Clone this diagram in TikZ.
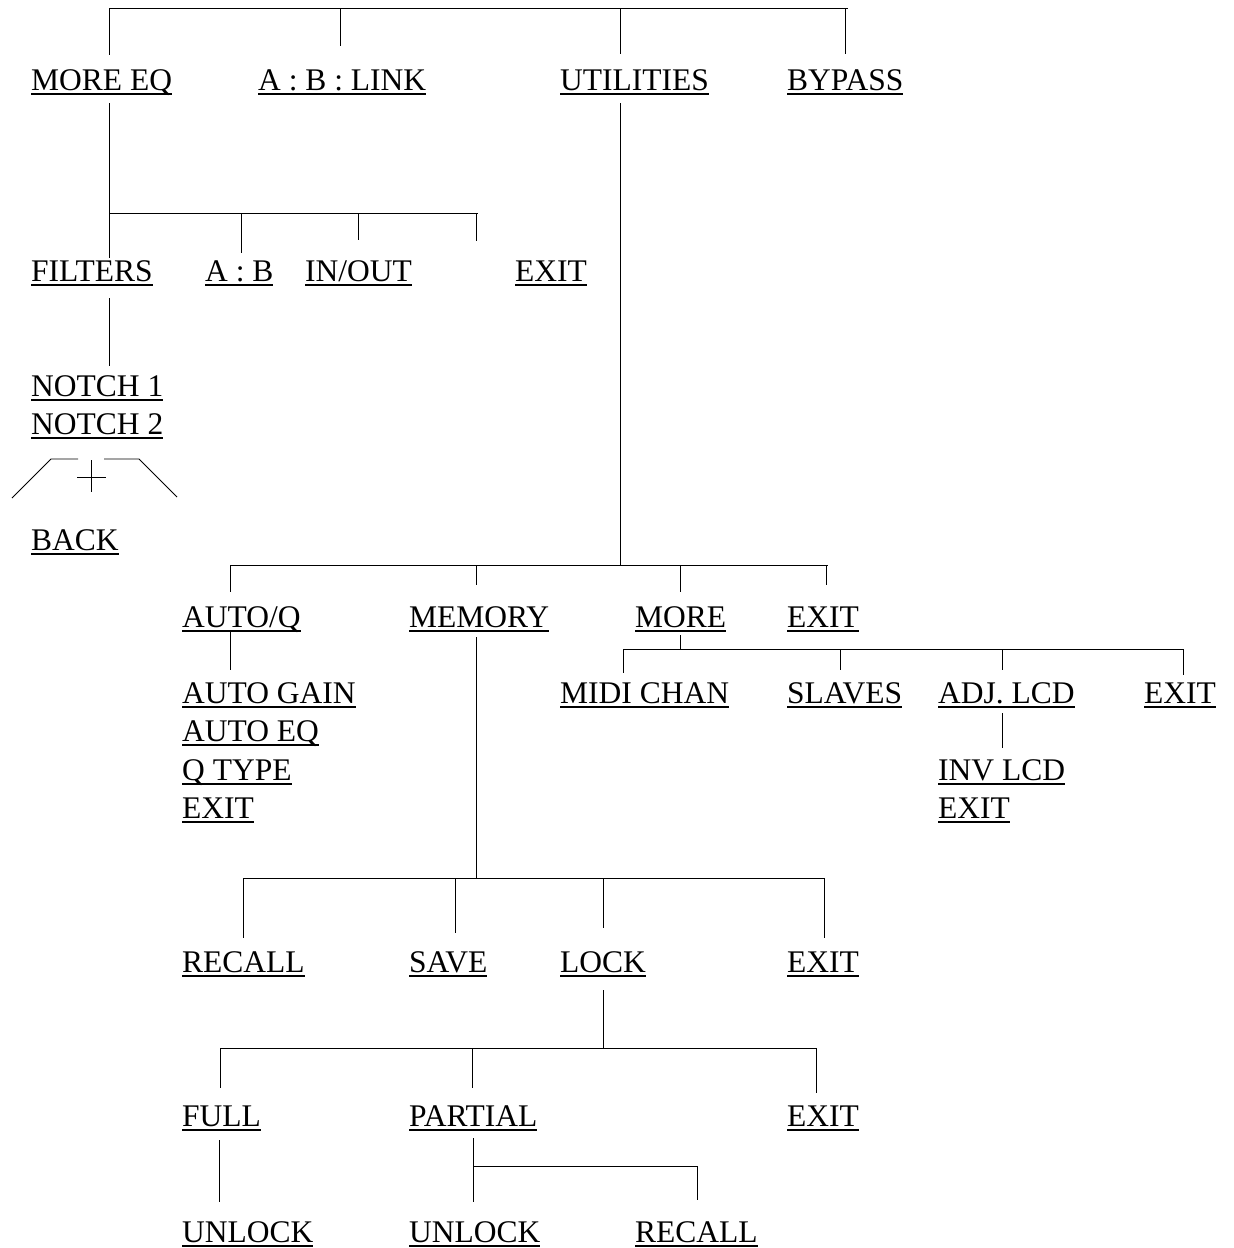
\documentclass[tikz,border=0pt]{standalone}
\usepackage{fontspec}
\setmainfont{Liberation Serif}
\usetikzlibrary{positioning}
\newsavebox\menubox
\newcommand\menuul[1]{\sbox\menubox{#1}\rlap{\rule[-4.5pt]{\wd\menubox}{1.7pt}}\usebox\menubox}

\begin{document}
\begin{tikzpicture}[x=1pt,y=-1pt,
  menuitem/.style={anchor=base west,inner sep=0pt,font=\fontsize{31.5}{37}\selectfont},
  menuline/.style={line width=0.9pt,black}
]
  \useasboundingbox (0,0) rectangle (1234,1248);

  % Top level
  \node[menuitem] (moreeq) at (31,90) {\menuul{MORE EQ}};
  \node[menuitem] (ablink) at (258,90) {\menuul{A : B : LINK}};
  \node[menuitem] (util) at (560,90) {\menuul{UTILITIES}};
  \node[menuitem] (bypass) at (787,90) {\menuul{BYPASS}};
  \coordinate (topbarL) at (109,8);
  \coordinate (topbarR) at (848,8);
  \draw[menuline] (topbarL) -- (topbarR);
  \foreach \x/\y in {109/55,340/46,620/54,845/54}
    \draw[menuline] (\x,8) -- (\x,\y);

  % More EQ
  \node[menuitem] (filters) at (31,281) {\menuul{FILTERS}};
  \node[menuitem] (ab) at (205,281) {\menuul{A : B}};
  \node[menuitem] (inout) at (305,281) {\menuul{IN/OUT}};
  \node[menuitem] (eqexit) at (515,281) {\menuul{EXIT}};
  \coordinate (eqbarL) at (109,213);
  \coordinate (eqbarR) at (478,213);
  \draw[menuline] (109,103) -- (109,258);
  \draw[menuline] (eqbarL) -- (eqbarR);
  \foreach \x/\y in {241/253,358/240,476/241}
    \draw[menuline] (\x,213) -- (\x,\y);

  % Filters
  \node[menuitem] (notcha) at (31,396) {\menuul{NOTCH 1}};
  \node[menuitem] (notchb) at (31,434) {\menuul{NOTCH 2}};
  \node[menuitem] (back) at (31,550) {\menuul{BACK}};
  \draw[menuline] (109,298) -- (109,366);
  \draw[menuline] (12,498) -- (51,459) -- (78,459);
  \draw[menuline] (104,459) -- (139,459) -- (177,497);
  \draw[menuline] (77,477) -- (106,477);
  \draw[menuline] (91,460) -- (91,492);

  % Utilities
  \node[menuitem] (autoq) at (182,627) {\menuul{AUTO/Q}};
  \node[menuitem] (memory) at (409,627) {\menuul{MEMORY}};
  \node[menuitem] (more) at (635,627) {\menuul{MORE}};
  \node[menuitem] (utilexit) at (787,627) {\menuul{EXIT}};
  \coordinate (utilbarL) at (230,565);
  \coordinate (utilbarR) at (828,565);
  \draw[menuline] (620,103) -- (620,565);
  \draw[menuline] (utilbarL) -- (utilbarR);
  \foreach \x/\y in {230/592,476/585,680/592,826/585}
    \draw[menuline] (\x,565) -- (\x,\y);

  % Auto/Q
  \node[menuitem] (autogain) at (182,703) {\menuul{AUTO GAIN}};
  \node[menuitem] (autoeq) at (182,741) {\menuul{AUTO EQ}};
  \node[menuitem] (qtype) at (182,780) {\menuul{Q TYPE}};
  \node[menuitem] (autoexit) at (182,818) {\menuul{EXIT}};
  \draw[menuline] (230,632) -- (230,670);

  % More
  \node[menuitem] (midichan) at (560,703) {\menuul{MIDI CHAN}};
  \node[menuitem] (slaves) at (787,703) {\menuul{SLAVES}};
  \node[menuitem] (adjlcd) at (938,703) {\menuul{ADJ. LCD}};
  \node[menuitem] (moreexit) at (1144,703) {\menuul{EXIT}};
  \coordinate (morebarL) at (623,649);
  \coordinate (morebarR) at (1184,649);
  \draw[menuline] (680,635) -- (680,649);
  \draw[menuline] (morebarL) -- (morebarR);
  \foreach \x/\y in {623/673,840/670,1002/670,1183/675}
    \draw[menuline] (\x,649) -- (\x,\y);

  % Adj. LCD
  \node[menuitem] (invlcd) at (938,780) {\menuul{INV LCD}};
  \node[menuitem] (lcdexit) at (938,818) {\menuul{EXIT}};
  \draw[menuline] (1002,713) -- (1002,748);

  % Memory
  \node[menuitem] (recall) at (182,972) {\menuul{RECALL}};
  \node[menuitem] (save) at (409,972) {\menuul{SAVE}};
  \node[menuitem] (lock) at (560,972) {\menuul{LOCK}};
  \node[menuitem] (memexit) at (787,972) {\menuul{EXIT}};
  \coordinate (membarL) at (243,878);
  \coordinate (membarR) at (824,878);
  \draw[menuline] (476,637) -- (476,878);
  \draw[menuline] (membarL) -- (membarR);
  \foreach \x/\y in {243/938,455/933,603/928,824/938}
    \draw[menuline] (\x,878) -- (\x,\y);

  % Lock
  \node[menuitem] (full) at (182,1126) {\menuul{FULL}};
  \node[menuitem] (partial) at (409,1126) {\menuul{PARTIAL}};
  \node[menuitem] (lockexit) at (787,1126) {\menuul{EXIT}};
  \coordinate (lockbarL) at (220,1048);
  \coordinate (lockbarR) at (816,1048);
  \draw[menuline] (603,990) -- (603,1048);
  \draw[menuline] (lockbarL) -- (lockbarR);
  \foreach \x/\y in {220/1088,472/1088,816/1093}
    \draw[menuline] (\x,1048) -- (\x,\y);

  % Full / Partial
  \node[menuitem] (unlocka) at (182,1242) {\menuul{UNLOCK}};
  \node[menuitem] (unlockb) at (409,1242) {\menuul{UNLOCK}};
  \node[menuitem] (precall) at (635,1242) {\menuul{RECALL}};
  \draw[menuline] (219,1140) -- (219,1202);
  \draw[menuline] (473,1138) -- (473,1202);
  \draw[menuline] (473,1166) -- (697,1166) -- (697,1200);
\end{tikzpicture}
\end{document}
